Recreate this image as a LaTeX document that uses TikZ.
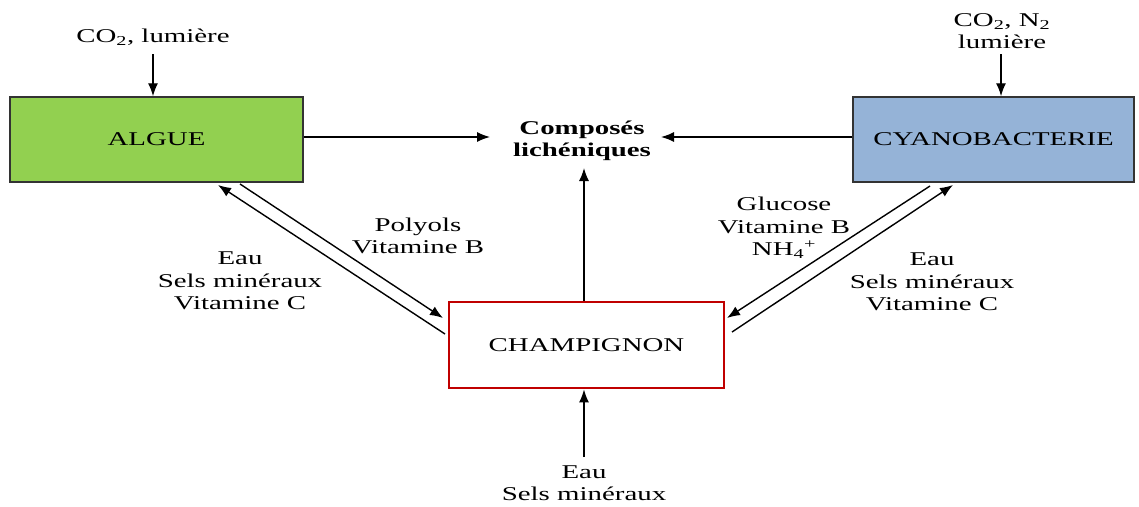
\documentclass[tikz,border=0pt]{standalone}
\usepackage{fontspec}
\setmainfont{Liberation Serif}[FakeStretch=1.48]
\usetikzlibrary{arrows.meta,calc}
\definecolor{alggreen}{HTML}{92D050}
\definecolor{cyanblue}{HTML}{95B3D7}
\definecolor{champred}{HTML}{C00000}
\definecolor{edgegray}{HTML}{333333}
\begin{document}
\begin{tikzpicture}[x=1pt,y=-1pt,
  every node/.style={font=\fontsize{19.5}{22.5}\selectfont, align=center, inner sep=2pt},
  box/.style={draw=edgegray, line width=1.5pt, minimum height=85pt},
  arr/.style={line width=1.4pt, -{Latex[length=13pt,width=10pt]}},
  lbl/.style={text=black}]
\useasboundingbox (0,0) rectangle (1139,506);
% boxes
\node[box, fill=alggreen, minimum width=293pt] (algue) at (156.5,139.5) {ALGUE};
\node[box, fill=cyanblue, minimum width=281pt] (cyano) at (993.5,139.5) {CYANOBACTERIE};
\node[box, draw=champred, line width=2.8pt, fill=white, minimum width=275pt, minimum height=86pt] (champ) at (586.5,345) {CHAMPIGNON};
\node[font=\fontsize{19.5}{22.5}\selectfont\bfseries] (comp) at (582,141) {Compos\'es\\lich\'eniques};
% labels
\node[lbl] (co2a) at (153,37) {CO\textsubscript{2}, lumi\`ere};
\node[lbl] (co2b) at (1002,31) {CO\textsubscript{2}, N\textsubscript{2}\\lumi\`ere};
\node[lbl] (bot) at (584,483) {Eau\\Sels min\'eraux};
\node[lbl] (poly) at (418,236) {Polyols\\Vitamine B};
\node[lbl] (eauL) at (240,281) {Eau\\Sels min\'eraux\\Vitamine C};
\node[lbl] (gluc) at (784,228) {Glucose\\Vitamine B\\NH\textsubscript{4}\textsuperscript{+}};
\node[lbl] (eauR) at (932,282) {Eau\\Sels min\'eraux\\Vitamine C};
% coordinates for diagonal connectors
\coordinate (a1) at (445,334);
\coordinate (a2) at (218,185);
\coordinate (b1) at (240,184);
\coordinate (b2) at (443,318);
\coordinate (c1) at (930,186);
\coordinate (c2) at (727,318);
\coordinate (d1) at (732,332);
\coordinate (d2) at (953,185);
\coordinate (compL) at (490,137);
\coordinate (compR) at (661,137);
% arrows
\draw[arr] (co2a.south |- 0,54) -- (co2a.south |- algue.north);
\draw[arr] (1001,54) -- (1001,0 |- cyano.north);
\draw[arr] (algue.east |- compL) -- (compL);
\draw[arr] (cyano.west |- compR) -- (compR);
\draw[arr] (champ.north -| 584,0) -- (584,168);
\draw[arr] (584,457) -- (champ.south -| 584,0);
\draw[arr] (a1) -- (a2);
\draw[arr] (b1) -- (b2);
\draw[arr] (c1) -- (c2);
\draw[arr] (d1) -- (d2);
\end{tikzpicture}
\end{document}
